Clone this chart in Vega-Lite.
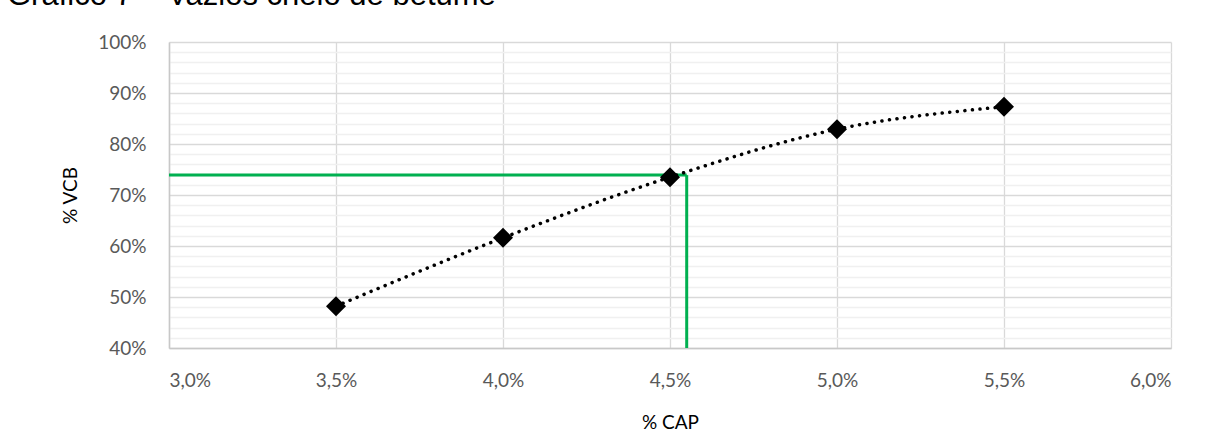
{
  "$schema": "https://vega.github.io/schema/vega-lite/v6.json",
  "width": 1002,
  "height": 306,
  "autosize": {"type": "none"},
  "padding": {"left": 169, "top": 42, "right": 35, "bottom": 84},
  "background": "white",
  "title": {
    "text": "Gráfico 7 – Vazios cheio de betume",
    "anchor": "start",
    "frame": "group",
    "dx": -162,
    "offset": 0,
    "dy": 3,
    "baseline": "alphabetic",
    "font": "Liberation Sans",
    "fontSize": 31,
    "fontWeight": "normal",
    "color": "#000000"
  },
  "config": {
    "view": {"stroke": null},
    "axis": {
      "labelFont": "Lato",
      "labelFontSize": 19,
      "labelColor": "#595959",
      "titleFont": "Lato",
      "titleFontSize": 19,
      "titleFontWeight": "normal",
      "titleColor": "#000000",
      "ticks": false,
      "tickSize": 0,
      "labelOverlap": false,
      "domainColor": "#c8c8c8",
      "domainWidth": 1.5,
      "gridColor": "#d9d9d9",
      "gridWidth": 1.3
    }
  },
  "datasets": {
    "pts": [
      {"cap": 0.035, "vcb": 0.482},
      {"cap": 0.040, "vcb": 0.616},
      {"cap": 0.045, "vcb": 0.735},
      {"cap": 0.050, "vcb": 0.829},
      {"cap": 0.055, "vcb": 0.873}
    ],
    "guide": [
      {"x1": 0.030, "x2": 0.0455, "y1": 0.739, "y2": 0.739},
      {"x1": 0.0455, "x2": 0.0455, "y1": 0.40, "y2": 0.739}
    ]
  },
  "layer": [
    {
      "data": {"name": "guide"},
      "mark": {"type": "rule", "color": "#00B050", "strokeWidth": 3},
      "encoding": {
        "x": {
          "field": "x1", "type": "quantitative",
          "scale": {"domain": [0.03, 0.06], "nice": false, "zero": false},
          "axis": {
            "title": "% CAP",
            "values": [0.03, 0.035, 0.04, 0.045, 0.05, 0.055, 0.06],
            "tickCount": 20,
            "labelExpr": "replace(format(datum.value, '.1%'), '.', ',')",
            "labelPadding": 23,
            "titleY": 74,
            "titleBaseline": "middle"
          }
        },
        "x2": {"field": "x2"},
        "y": {
          "field": "y1", "type": "quantitative",
          "scale": {"domain": [0.4, 1.0], "nice": false, "zero": false},
          "axis": {
            "title": "% VCB",
            "values": [0.40,0.42,0.44,0.46,0.48,0.50,0.52,0.54,0.56,0.58,0.60,0.62,0.64,0.66,0.68,0.70,0.72,0.74,0.76,0.78,0.80,0.82,0.84,0.86,0.88,0.90,0.92,0.94,0.96,0.98,1.00],
            "tickCount": 60,
            "labelExpr": "round(datum.value*100) % 10 === 0 ? format(datum.value, '.0%') : ''",
            "gridColor": {"condition": {"test": "round(datum.value*100) % 10 === 0", "value": "#d9d9d9"}, "value": "#f0f0f0"},
            "labelPadding": 23,
            "titleX": -99,
            "titleBaseline": "middle"
          }
        },
        "y2": {"field": "y2"}
      }
    },
    {
      "data": {"name": "pts"},
      "mark": {"type": "line", "color": "#000000", "strokeWidth": 3.5, "strokeDash": [0.1, 7.5], "strokeCap": "round", "interpolate": "monotone"},
      "encoding": {
        "x": {"field": "cap", "type": "quantitative"},
        "y": {"field": "vcb", "type": "quantitative"}
      }
    },
    {
      "data": {"name": "pts"},
      "mark": {"type": "point", "shape": "diamond", "filled": true, "color": "#000000", "size": 400, "opacity": 1},
      "encoding": {
        "x": {"field": "cap", "type": "quantitative"},
        "y": {"field": "vcb", "type": "quantitative"}
      }
    }
  ]
}
